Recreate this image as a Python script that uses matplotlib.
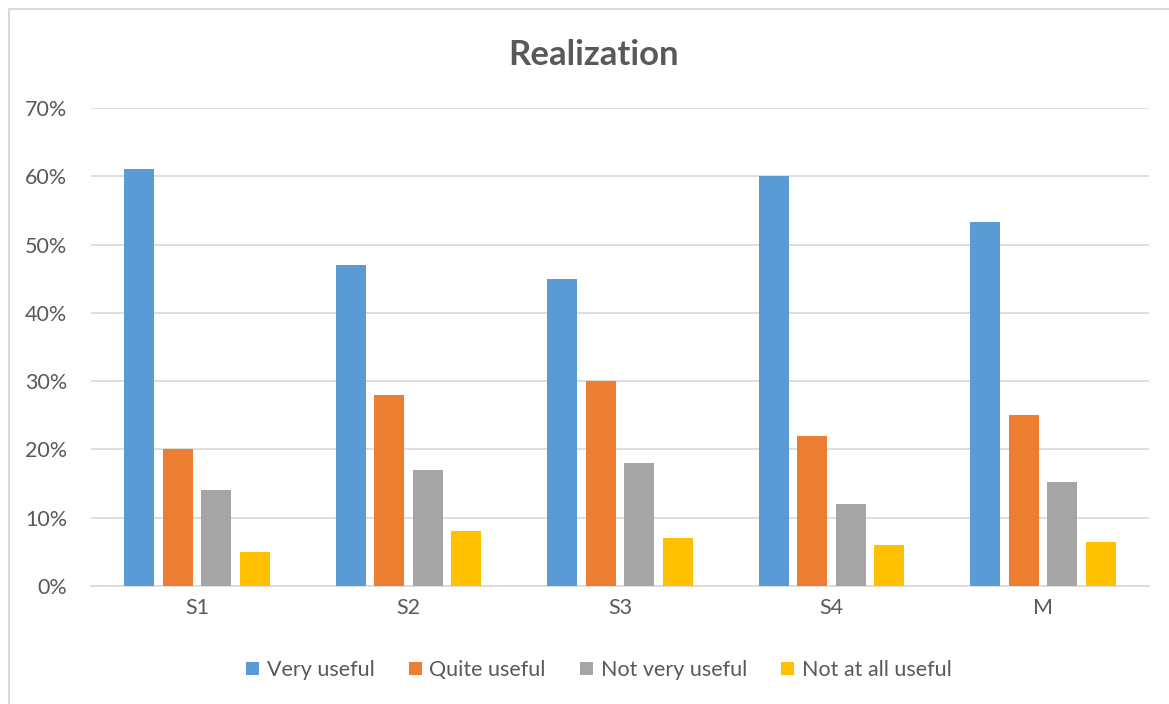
import numpy as np
import matplotlib.pyplot as plt
from matplotlib.patches import Rectangle
from matplotlib.ticker import PercentFormatter

categories = ['S1', 'S2', 'S3', 'S4', 'M']
series_names = ['Very useful', 'Quite useful', 'Not very useful', 'Not at all useful']
very_useful = [61, 47, 45, 60, 53.25]
quite_useful = [20, 28, 30, 22, 25]
not_very_useful = [14, 17, 18, 12, 15.25]
not_at_all_useful = [5, 8, 7, 6, 6.5]
colors = ['#5B9BD5', '#ED7D31', '#A5A5A5', '#FFC000']

plt.rcParams['font.family'] = ['Lato', 'DejaVu Sans']
text_color = '#595959'

W, H = 1169, 704
fig = plt.figure(figsize=(W / 100, H / 100), dpi=100)
# axes placement in pixels: left 91, right 1149, top 108, bottom 586
ax = fig.add_axes([91 / W, 1 - 586 / H, (1149 - 91) / W, (586 - 108) / H])

# chart border
fig.patches.append(Rectangle((9 / W, -0.05), 1.2, 1 - 9 / H + 0.05, transform=fig.transFigure,
                             fill=False, edgecolor='#D9D9D9', linewidth=1.5))

x = np.arange(len(categories))
step = 0.182
width = 0.142
all_series = [very_useful, quite_useful, not_very_useful, not_at_all_useful]
for j, (vals, name, c) in enumerate(zip(all_series, series_names, colors)):
    ax.bar(x + (j - 1.5) * step, vals, width=width, color=c, label=name, zorder=3)

ax.set_xlim(-0.5, len(categories) - 0.5)
ax.set_ylim(0, 70)
ax.set_yticks(np.arange(0, 71, 10))
ax.yaxis.set_major_formatter(PercentFormatter(decimals=0))
ax.grid(axis='y', color='#D9D9D9', linewidth=1.2, zorder=0)
for s in ['top', 'right', 'left']:
    ax.spines[s].set_visible(False)
ax.spines['bottom'].set_color('#D9D9D9')
ax.spines['bottom'].set_linewidth(1.2)
ax.set_xticks(x)
ax.set_xticklabels(categories)
ax.tick_params(axis='both', length=0, labelsize=15.5, colors=text_color)
ax.tick_params(axis='x', pad=9)
ax.tick_params(axis='y', pad=17)

fig.text(594 / W, 1 - 55 / H, 'Realization', ha='center', va='center',
         fontsize=25, fontweight='bold', color=text_color)

leg = fig.legend(loc='center', bbox_to_anchor=(599 / W, 1 - 670 / H), ncol=4, frameon=False,
                 fontsize=15.5, handlelength=0.6, handleheight=0.6, handletextpad=0.35,
                 columnspacing=1.6)
for t in leg.get_texts():
    t.set_color(text_color)

fig.savefig('out.png', dpi=100)
